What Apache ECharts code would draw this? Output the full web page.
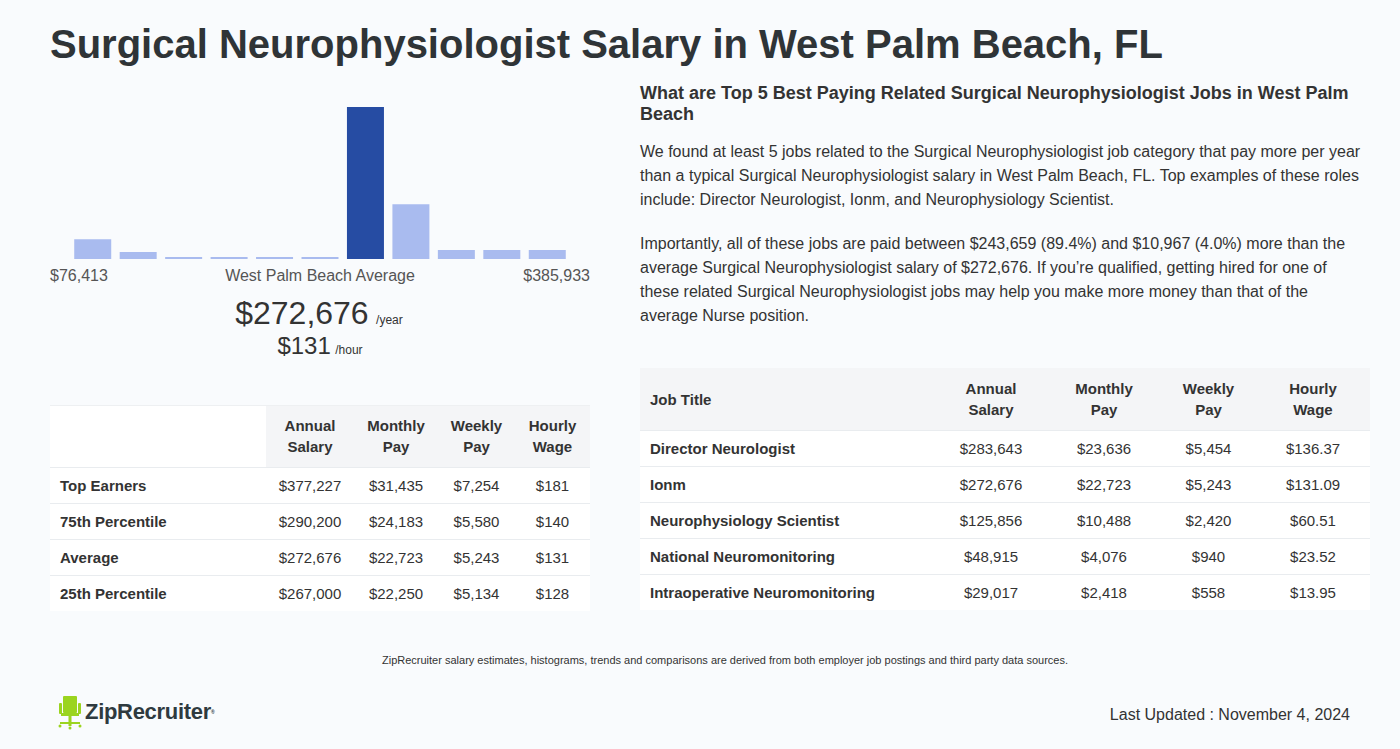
<!DOCTYPE html>
<html>
<head>
<meta charset="utf-8">
<script src="https://cdn.jsdelivr.net/npm/echarts@6/dist/echarts.min.js"></script>
<style>
  html, body { margin:0; padding:0; }
  body { width:1400px; height:749px; background:#f9fbfd; font-family:"Liberation Sans", Arial, sans-serif; color:#333; position:relative; overflow:hidden; }
  .abs { position:absolute; }
  h1 { position:absolute; left:50px; top:19px; margin:0; font-size:40px; font-weight:bold; color:#2f3437; line-height:50px; white-space:nowrap; }
  table { border-collapse:collapse; table-layout:fixed; font-size:15px; color:#333; }
  th { font-weight:bold; line-height:21px; padding:0; text-align:center; color:#333; }
  td { padding:0; text-align:center; height:35px; border-top:1px solid #e9ecef; background:#fff; }
  td.lbl { text-align:left; padding-left:10px; font-weight:bold; }
  .hdr th { height:62px; }
</style>
</head>
<body>
<h1 id="title"></h1>

<div id="hist" class="abs" style="left:50px; top:95px; width:540px; height:168px;"></div>
<div class="abs" id="minLbl" style="left:50px; top:266px; font-size:16px; color:#555; line-height:20px;"></div>
<div class="abs" id="midLbl" style="left:50px; width:540px; top:266px; font-size:16px; color:#555; line-height:20px; text-align:center;"></div>
<div class="abs" id="maxLbl" style="right:810px; top:266px; font-size:16px; color:#555; line-height:20px;"></div>

<div class="abs" style="left:49px; width:540px; top:293px; text-align:center; line-height:40px; color:#333;">
  <span id="avgYear" style="font-size:32px;"></span> <span style="font-size:12px; margin-left:3px;">/year</span>
</div>
<div class="abs" style="left:50px; width:540px; top:331px; text-align:center; line-height:30px; color:#333;">
  <span id="avgHour" style="font-size:24px;"></span> <span style="font-size:12px;">/hour</span>
</div>

<div class="abs" style="left:50px; top:405px; width:540px; height:1px; background:#eef0f2; z-index:2;"></div>
<table id="leftTable" class="abs" style="left:50px; top:405px; width:540px;">
  <colgroup><col style="width:216px"><col style="width:88px"><col style="width:84px"><col style="width:77px"><col style="width:75px"></colgroup>
</table>

<div class="abs" style="left:640px; top:83px; width:730px; font-size:18px; font-weight:bold; line-height:21px; color:#333;" id="rHead"></div>
<div class="abs" style="left:640px; top:140px; width:730px; font-size:16px; line-height:24px; color:#333;">
  <p style="margin:0;" id="p1"></p>
  <p style="margin:20px 0 0 0;" id="p2"></p>
</div>

<table id="rightTable" class="abs" style="left:640px; top:368px; width:730px;">
  <colgroup><col style="width:295px"><col style="width:112px"><col style="width:114px"><col style="width:95px"><col style="width:114px"></colgroup>
</table>

<div class="abs" style="left:50px; width:1350px; top:653px; text-align:center; font-size:11px; color:#333; line-height:14px;" id="note"></div>

<svg class="abs" style="left:55px; top:692px;" width="30" height="40" viewBox="0 0 30 40">
  <rect x="8" y="4" width="14" height="17" rx="1" fill="#9bd41f"/>
  <rect x="4" y="11" width="3" height="11" rx="1" fill="#9bd41f"/>
  <rect x="23" y="11" width="3" height="11" rx="1" fill="#9bd41f"/>
  <rect x="6" y="21" width="18" height="3" fill="#9bd41f"/>
  <rect x="13.5" y="24" width="3" height="10" fill="#9bd41f"/>
  <rect x="5" y="30" width="20" height="2" fill="#9bd41f"/>
  <circle cx="5" cy="34" r="1.5" fill="#9bd41f"/>
  <circle cx="25" cy="34" r="1.5" fill="#9bd41f"/>
  <circle cx="15" cy="36" r="1.5" fill="#9bd41f"/>
</svg>
<div class="abs" style="left:85px; top:698px; font-size:22px; font-weight:bold; color:#2f3a3f; line-height:28px; letter-spacing:-0.3px;">ZipRecruiter<sup style="font-size:5px; vertical-align:top;">®</sup></div>

<div class="abs" style="right:50px; top:705px; font-size:16px; line-height:20px; color:#333;" id="updated"></div>

<script>
// ---- Data ----
const titleText = "Surgical Neurophysiologist Salary in West Palm Beach, FL";
const histBins = ["1","2","3","4","5","6","7","8","9","10","11"];
const histValues = [13, 4.6, 1.3, 1.3, 1.3, 1.3, 100, 36, 5.9, 5.9, 5.9];
const highlightBin = 6;
const rangeMin = "$76,413";
const rangeMax = "$385,933";
const rangeMid = "West Palm Beach Average";
const avgYear = "$272,676";
const avgHour = "$131";

const leftHeaders = ["", "Annual<br>Salary", "Monthly<br>Pay", "Weekly<br>Pay", "Hourly<br>Wage"];
const leftRowLabels = ["Top Earners", "75th Percentile", "Average", "25th Percentile"];
const leftAnnual = ["$377,227", "$290,200", "$272,676", "$267,000"];
const leftMonthly = ["$31,435", "$24,183", "$22,723", "$22,250"];
const leftWeekly = ["$7,254", "$5,580", "$5,243", "$5,134"];
const leftHourly = ["$181", "$140", "$131", "$128"];

const rightHeaders = ["Job Title", "Annual<br>Salary", "Monthly<br>Pay", "Weekly<br>Pay", "Hourly<br>Wage"];
const jobTitles = ["Director Neurologist", "Ionm", "Neurophysiology Scientist", "National Neuromonitoring", "Intraoperative Neuromonitoring"];
const jobAnnual = ["$283,643", "$272,676", "$125,856", "$48,915", "$29,017"];
const jobMonthly = ["$23,636", "$22,723", "$10,488", "$4,076", "$2,418"];
const jobWeekly = ["$5,454", "$5,243", "$2,420", "$940", "$558"];
const jobHourly = ["$136.37", "$131.09", "$60.51", "$23.52", "$13.95"];

const rightHeading = "What are Top 5 Best Paying Related Surgical Neurophysiologist Jobs in West Palm Beach";
const para1 = "We found at least 5 jobs related to the Surgical Neurophysiologist job category that pay more per year than a typical Surgical Neurophysiologist salary in West Palm Beach, FL. Top examples of these roles include: Director Neurologist, Ionm, and Neurophysiology Scientist.";
const para2 = "Importantly, all of these jobs are paid between $243,659 (89.4%) and $10,967 (4.0%) more than the average Surgical Neurophysiologist salary of $272,676. If you\u2019re qualified, getting hired for one of these related Surgical Neurophysiologist jobs may help you make more money than that of the average Nurse position.";
const noteText = "ZipRecruiter salary estimates, histograms, trends and comparisons are derived from both employer job postings and third party data sources.";
const updatedText = "Last Updated : November 4, 2024";

// ---- Text ----
document.getElementById('title').textContent = titleText;
document.getElementById('minLbl').textContent = rangeMin;
document.getElementById('maxLbl').textContent = rangeMax;
document.getElementById('midLbl').textContent = rangeMid;
document.getElementById('avgYear').textContent = avgYear;
document.getElementById('avgHour').textContent = avgHour;
document.getElementById('rHead').textContent = rightHeading;
document.getElementById('p1').textContent = para1;
document.getElementById('p2').textContent = para2;
document.getElementById('note').textContent = noteText;
document.getElementById('updated').textContent = updatedText;

function buildTable(id, headers, labels, cols, firstHeaderBg) {
  const t = document.getElementById(id);
  let h = '<tr class="hdr">';
  headers.forEach((x, i) => {
    const bg = (i === 0) ? firstHeaderBg : '#f4f5f7';
    const align = (i === 0 && x) ? 'text-align:left; padding-left:10px;' : '';
    h += '<th style="background:' + bg + ';' + align + '">' + x + '</th>';
  });
  h += '</tr>';
  labels.forEach((l, r) => {
    h += '<tr><td class="lbl">' + l + '</td>';
    cols.forEach(c => { h += '<td>' + c[r] + '</td>'; });
    h += '</tr>';
  });
  t.insertAdjacentHTML('beforeend', h);
}
buildTable('leftTable', leftHeaders, leftRowLabels, [leftAnnual, leftMonthly, leftWeekly, leftHourly], '#fff');
buildTable('rightTable', rightHeaders, jobTitles, [jobAnnual, jobMonthly, jobWeekly, jobHourly], '#f4f5f7');

// ---- Histogram ----
const chart = echarts.init(document.getElementById('hist'), null, { renderer: 'canvas' });
chart.setOption({
  animation: false,
  grid: { left: 20, right: 20, top: 12, bottom: 4 },
  xAxis: { type: 'category', data: histBins, show: false },
  yAxis: { type: 'value', min: 0, max: 100, show: false },
  series: [{
    type: 'bar',
    barWidth: 37,
    data: histValues.map((v, i) => ({
      value: v,
      itemStyle: { color: i === highlightBin ? '#264ca3' : '#a9bbef' }
    }))
  }]
});
</script>
</body>
</html>
